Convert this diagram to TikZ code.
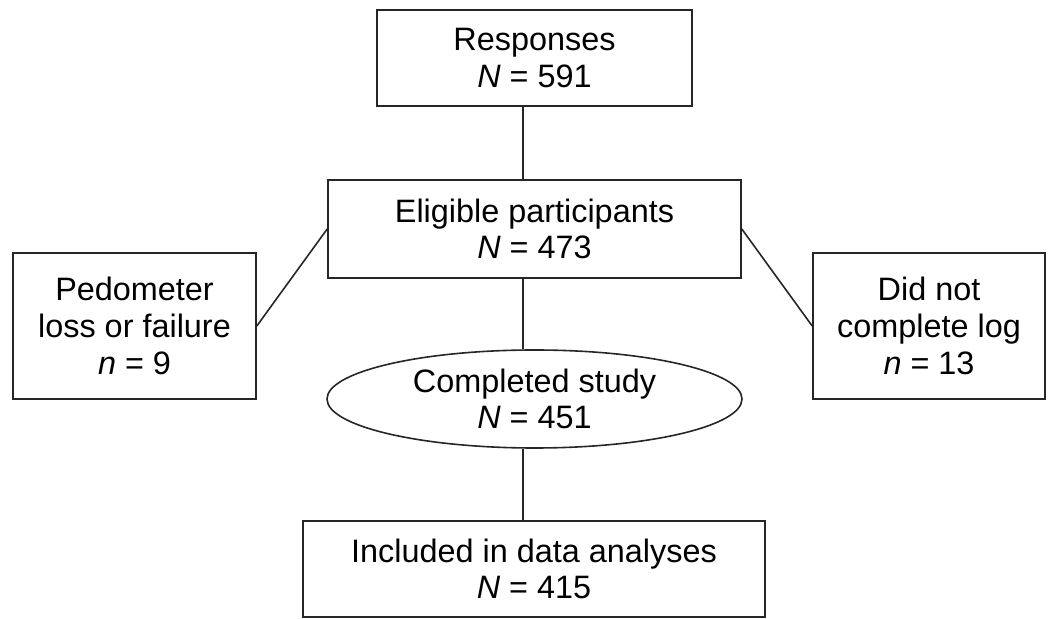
\documentclass[tikz,border=0pt]{standalone}
\usepackage{fontspec}
\setmainfont{Liberation Sans}
\usetikzlibrary{shapes.geometric}

\begin{document}
\begin{tikzpicture}[x=0.5pt, y=-0.5pt,
    every node/.style={font=\fontsize{16.2}{18.4}\selectfont, align=center, inner sep=0pt},
    flowbox/.style={draw=black!85, line width=0.8pt, rectangle},
    flowoval/.style={draw=black!85, line width=0.8pt, ellipse},
    link/.style={draw=black!85, line width=0.8pt}]

    \useasboundingbox (0,0) rectangle (1050,619);

    % Boxes
    \node[flowbox, minimum width=157.5pt, minimum height=48pt] (resp) at (534.5,58) {Responses\\\textit{N} = 591};
    \node[flowbox, minimum width=206.5pt, minimum height=49pt] (elig) at (534.5,229) {Eligible participants\\\textit{N} = 473};
    \node[flowbox, minimum width=121.5pt, minimum height=73pt] (pedo) at (134.5,326) {Pedometer\\loss or failure\\\textit{n} = 9};
    \node[flowbox, minimum width=116pt, minimum height=73pt] (dnc) at (929,326) {Did not\\complete log\\\textit{n} = 13};
    \node[flowoval, minimum width=207.5pt, minimum height=49pt] (comp) at (534.5,399) {Completed study\\\textit{N} = 451};
    \node[flowbox, minimum width=231pt, minimum height=48pt] (incl) at (534,569) {Included in data analyses\\\textit{N} = 415};

    % Connectors
    \coordinate (spine) at (523,0);
    \draw[link] (resp.south -| spine) -- (elig.north -| spine);
    \draw[link] (elig.south -| spine) -- (comp.north -| spine);
    \draw[link] (comp.south -| spine) -- (incl.north -| spine);
    \draw[link] (elig.west) -- (pedo.east);
    \draw[link] (elig.east) -- (dnc.west);

\end{tikzpicture}
\end{document}
